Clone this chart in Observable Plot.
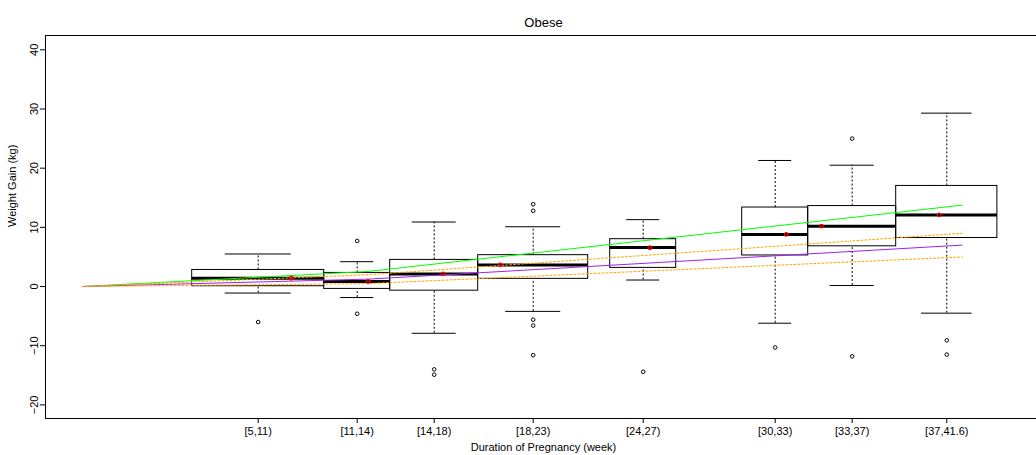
<!DOCTYPE html>
<html><head><meta charset="utf-8">
<script src="https://cdn.jsdelivr.net/npm/d3@7"></script>
<script src="https://cdn.jsdelivr.net/npm/@observablehq/plot@0.6"></script>
<style>
html,body{margin:0;padding:0;background:#fff;overflow:hidden}
#chart{width:1036px;height:455px;overflow:hidden}
#chart svg{max-width:none !important}
</style></head><body><div id="chart"></div>
<script>
// Gestational-week groups (box spans the interval)
const groups   = ["[5,11)","[11,14)","[14,18)","[18,23)","[24,27)","[30,33)","[33,37)","[37,41.6)"];
const weekLo   = [5, 11, 14, 18, 24, 30, 33, 37];
const weekHi   = [11, 14, 18, 23, 27, 33, 37, 41.6];
// Box statistics (kg)
const whiskLow = [-1.1, -1.86, -7.9, -4.2, 1.1, -6.2, 0.17, -4.5];
const q1       = [0.05, -0.4, -0.7, 1.3, 3.15, 5.25, 6.8, 8.2];
const median   = [1.4, 0.85, 2.1, 3.65, 6.6, 8.8, 10.2, 12.1];
const q3       = [2.8, 2.3, 4.5, 5.3, 8.0, 13.35, 13.6, 17.0];
const whiskHigh= [5.5, 4.2, 10.9, 10.1, 11.3, 21.3, 20.5, 29.3];
// Group means (week, kg)
const meanWeek = [9.5, 13.0, 16.4, 19.0, 25.8, 32.0, 33.6, 38.95];
const meanGain = [1.4, 0.85, 2.15, 3.65, 6.55, 8.8, 10.2, 12.1];
// Outliers per group
const outliers = [
  [-6.0],
  [7.7, -4.6],
  [-14.0, -14.9],
  [13.9, 12.8, -5.6, -6.6, -11.6],
  [-14.4],
  [-10.3],
  [25.0, -11.8],
  [-9.1, -11.5]
];
// Reference gain curves (week -> kg)
const refWeeks   = [0, 13, 40];
const greenGain  = [0, 2.55, 13.75];
const purpleGain = [0, 1.25, 7.0];
const orangeHigh = [0, 2.0, 9.0];
const orangeLow  = [0, 0.5, 5.0];
const yTicks = [-20, -10, 0, 10, 20, 30, 40];
const xLimits = [-1.668, 43.605];
const yLimits = [-22.3, 42.42];

const boxes = groups.map((g, i) => ({
  group: g, lo: weekLo[i], hi: weekHi[i], mid: (weekLo[i] + weekHi[i]) / 2,
  half: (weekHi[i] - weekLo[i]) / 4,
  wl: whiskLow[i], q1: q1[i], med: median[i], q3: q3[i], wh: whiskHigh[i],
  mw: meanWeek[i], mg: meanGain[i]
}));
const outData = boxes.flatMap((b, i) => outliers[i].map(v => ({x: b.mid, y: v})));
const mkLine = (arr, name) => refWeeks.map((w, i) => ({w, v: arr[i], name}));
const labelByMid = new Map(boxes.map(b => [b.mid, b.group]));

const plot = Plot.plot({
  width: 1042, height: 455,
  marginLeft: 45, marginRight: 1, marginTop: 35, marginBottom: 37,
  style: {fontFamily: "'Liberation Sans', Arial, sans-serif", fontSize: "11px", background: "#fff", overflow: "visible", maxWidth: "none"},
  x: {domain: xLimits},
  y: {domain: yLimits},
  marks: [
    Plot.frame({stroke: "black"}),
    Plot.axisY(yTicks, {tickSize: 5, tickPadding: 3, tickRotate: -90, textAnchor: "middle", lineAnchor: "bottom", label: null, fontSize: 11}),
    Plot.axisX(boxes.map(b => b.mid), {tickSize: 5, tickPadding: 4, tickFormat: d => labelByMid.get(d), label: null, fontSize: 11}),
    // whiskers
    Plot.ruleX(boxes, {x: "mid", y1: "q3", y2: "wh", stroke: "black", strokeDasharray: "2,2"}),
    Plot.ruleX(boxes, {x: "mid", y1: "wl", y2: "q1", stroke: "black", strokeDasharray: "2,2"}),
    Plot.ruleY(boxes, {y: "wh", x1: d => d.mid - d.half, x2: d => d.mid + d.half, stroke: "black"}),
    Plot.ruleY(boxes, {y: "wl", x1: d => d.mid - d.half, x2: d => d.mid + d.half, stroke: "black"}),
    // boxes
    Plot.rect(boxes, {x1: "lo", x2: "hi", y1: "q1", y2: "q3", fill: "none", stroke: "black"}),
    Plot.ruleY(boxes, {y: "med", x1: "lo", x2: "hi", stroke: "black", strokeWidth: 3}),
    // outliers
    Plot.dot(outData, {x: "x", y: "y", r: 1.8, stroke: "black", strokeWidth: 1}),
    // reference lines
    Plot.line(mkLine(greenGain, "g"), {x: "w", y: "v", stroke: "#00ff00", strokeWidth: 1}),
    Plot.line(mkLine(purpleGain, "p"), {x: "w", y: "v", stroke: "#a020f0", strokeWidth: 1}),
    Plot.line(mkLine(orangeHigh, "oh"), {x: "w", y: "v", stroke: "#ffa500", strokeWidth: 1, strokeDasharray: "2,2"}),
    Plot.line(mkLine(orangeLow, "ol"), {x: "w", y: "v", stroke: "#ffa500", strokeWidth: 1, strokeDasharray: "2,2"}),
    // means
    Plot.dot(boxes, {x: "mw", y: "mg", r: 1.8, stroke: "red", strokeWidth: 1.2}),
    // titles
    Plot.text(["Obese"], {text: d => d, frameAnchor: "top", dy: -18, fontSize: 13}),
    Plot.text(["Duration of Pregnancy (week)"], {text: d => d, frameAnchor: "bottom", dy: 32, fontSize: 11}),
    Plot.text(["Weight Gain (kg)"], {text: d => d, frameAnchor: "left", dx: -33, rotate: -90, fontSize: 11})
  ]
});
document.getElementById("chart").appendChild(plot);
</script></body></html>
